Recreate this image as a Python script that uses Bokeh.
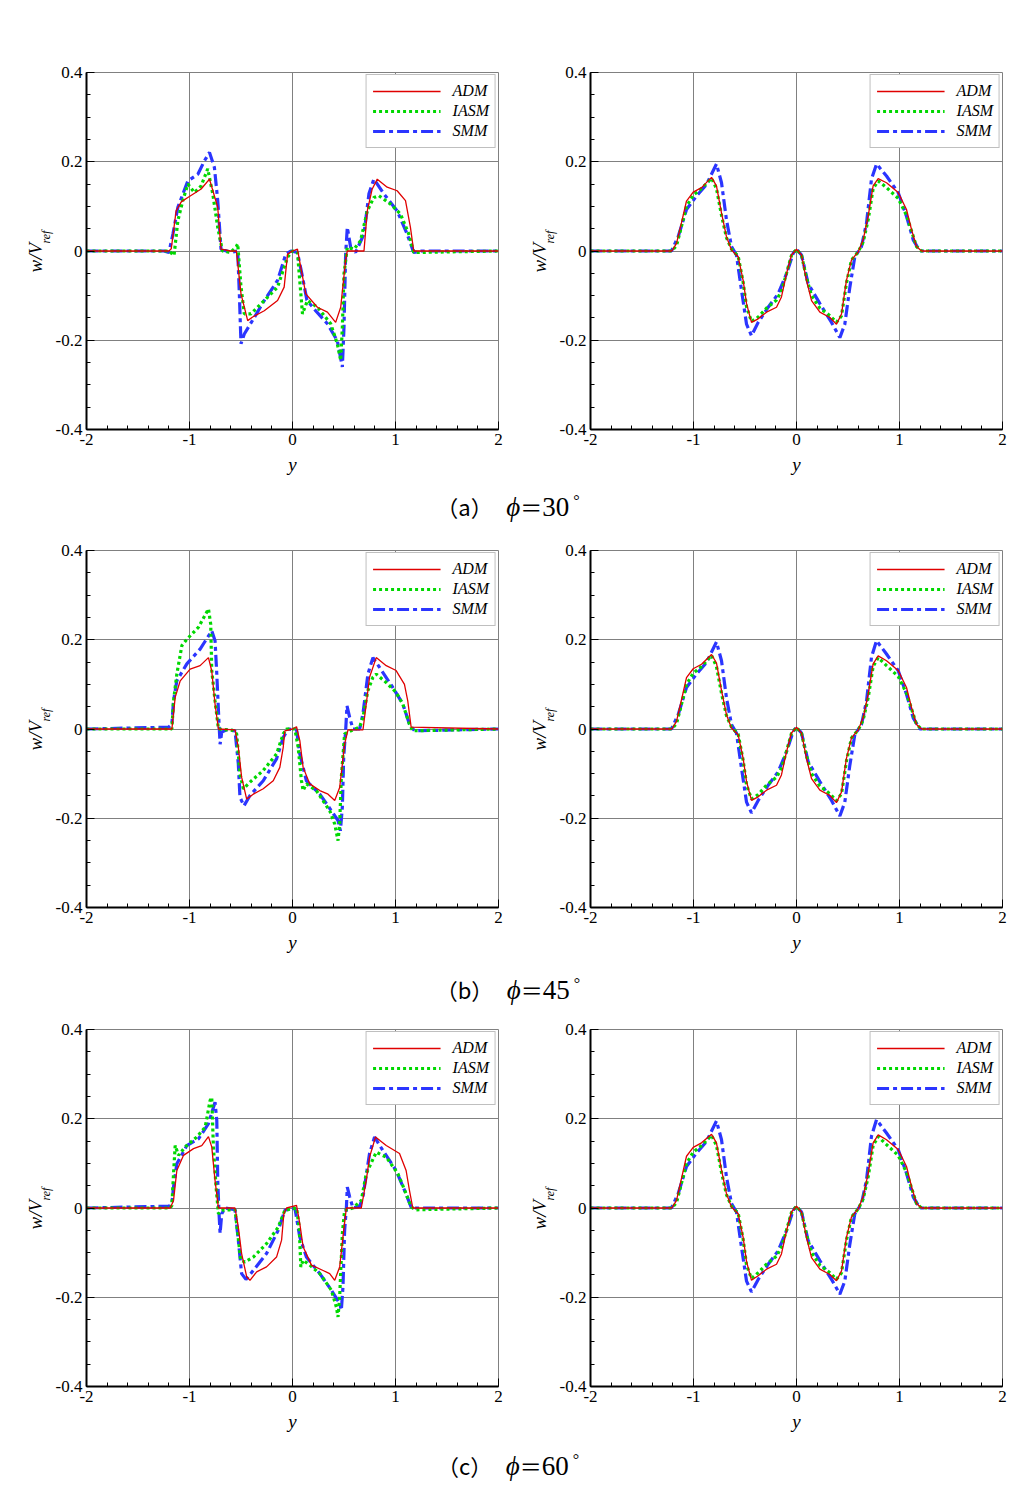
import math
from bokeh.plotting import figure
from bokeh.models import (FixedTicker, Legend, LegendItem, Title, Div, Range1d)
from bokeh.layouts import column, row
from bokeh.embed import file_html
from bokeh.resources import INLINE

# ---------------- data ----------------
# Panel (a) phi=30, left
a_l_adm_x = [-2, -1.2, -1.177, -1.13, -1.08, -1.016, -0.887, -0.806, -0.726, -0.694, -0.6, -0.545, -0.5, -0.435, -0.387, -0.274, -0.145, -0.081, -0.048, 0.0, 0.048, 0.081, 0.129, 0.242, 0.339, 0.419, 0.468, 0.516, 0.532, 0.694, 0.726, 0.774, 0.823, 0.919, 1.016, 1.097, 1.145, 1.177, 2]
a_l_adm_y = [0, 0, 0.005, 0.09, 0.11, 0.12, 0.139, 0.161, 0.098, 0.004, 0, 0, -0.096, -0.156, -0.148, -0.134, -0.111, -0.081, -0.007, 0, 0.004, -0.037, -0.096, -0.126, -0.137, -0.16, -0.126, -0.02, 0, 0, 0.09, 0.139, 0.161, 0.143, 0.135, 0.113, 0.053, 0, 0]
a_l_iasm_x = [-2, -1.2, -1.15, -1.113, -1.065, -1.016, -0.952, -0.887, -0.823, -0.774, -0.726, -0.68, -0.6, -0.545, -0.532, -0.5, -0.468, -0.403, -0.274, -0.145, -0.048, 0, 0.048, 0.081, 0.097, 0.145, 0.242, 0.371, 0.435, 0.468, 0.484, 0.5, 0.532, 0.597, 0.661, 0.726, 0.79, 0.839, 0.952, 1.048, 1.129, 1.177, 1.27, 2]
a_l_iasm_y = [0, 0, -0.01, 0.068, 0.113, 0.15, 0.131, 0.146, 0.184, 0.128, 0.053, 0, -0.003, 0.01, 0.016, -0.08, -0.141, -0.141, -0.111, -0.081, -0.014, 0, -0.003, -0.096, -0.141, -0.111, -0.126, -0.163, -0.208, -0.245, -0.171, -0.051, 0.008, 0.004, 0.023, 0.09, 0.12, 0.124, 0.105, 0.083, 0.038, -0.003, -0.003, 0]
a_l_smm_x = [-2, -1.25, -1.2, -1.161, -1.113, -1.016, -0.919, -0.855, -0.806, -0.758, -0.726, -0.694, -0.6, -0.532, -0.516, -0.5, -0.468, -0.371, -0.274, -0.145, -0.065, -0.016, 0.048, 0.09, 0.14, 0.21, 0.339, 0.435, 0.484, 0.5, 0.516, 0.532, 0.565, 0.613, 0.694, 0.742, 0.79, 0.887, 1.016, 1.113, 1.177, 1.25, 2]
a_l_smm_y = [0, 0, -0.003, 0.038, 0.098, 0.157, 0.172, 0.202, 0.221, 0.187, 0.113, 0.004, -0.003, 0, -0.096, -0.208, -0.186, -0.149, -0.111, -0.066, -0.007, 0, -0.003, -0.05, -0.11, -0.13, -0.163, -0.201, -0.26, -0.17, -0.007, 0.053, 0.008, -0.003, 0.038, 0.128, 0.161, 0.128, 0.09, 0.038, -0.003, 0, 0]

# Panel (a) phi=30, right
a_r_adm_x = [-2, -1.21, -1.165, -1.117, -1.068, -1.003, -0.922, -0.825, -0.777, -0.728, -0.68, -0.631, -0.566, -0.518, -0.485, -0.437, -0.372, -0.291, -0.194, -0.146, -0.097, -0.049, 0, 0.049, 0.097, 0.146, 0.227, 0.324, 0.388, 0.437, 0.485, 0.534, 0.599, 0.647, 0.696, 0.744, 0.793, 0.874, 0.987, 1.068, 1.117, 1.165, 1.214, 2]
a_r_adm_y = [0, 0, 0.017, 0.063, 0.112, 0.132, 0.142, 0.165, 0.146, 0.085, 0.032, 0.002, -0.013, -0.066, -0.118, -0.16, -0.152, -0.137, -0.126, -0.103, -0.051, -0.009, 0.004, -0.009, -0.066, -0.111, -0.137, -0.149, -0.164, -0.141, -0.066, -0.02, -0.002, 0.025, 0.078, 0.146, 0.162, 0.153, 0.131, 0.093, 0.048, 0.01, 0, 0]
a_r_iasm_x = a_r_adm_x
a_r_iasm_y = [0, 0, 0.012, 0.055, 0.1, 0.125, 0.14, 0.163, 0.14, 0.08, 0.03, 0.004, -0.012, -0.07, -0.125, -0.158, -0.148, -0.128, -0.11, -0.09, -0.05, -0.01, 0.004, -0.01, -0.06, -0.1, -0.128, -0.145, -0.16, -0.145, -0.072, -0.02, -0.002, 0.02, 0.07, 0.14, 0.157, 0.142, 0.118, 0.08, 0.045, 0.01, 0, 0]
a_r_smm_x = [-2, -1.214, -1.149, -1.068, -0.971, -0.874, -0.777, -0.728, -0.68, -0.631, -0.583, -0.534, -0.485, -0.437, -0.372, -0.275, -0.178, -0.097, -0.032, 0, 0.049, 0.113, 0.227, 0.34, 0.421, 0.469, 0.518, 0.566, 0.631, 0.68, 0.728, 0.777, 0.874, 0.987, 1.068, 1.133, 1.197, 2]
a_r_smm_y = [0, 0, 0.032, 0.093, 0.123, 0.149, 0.195, 0.153, 0.07, 0.01, -0.009, -0.088, -0.164, -0.19, -0.16, -0.126, -0.096, -0.051, -0.005, 0.004, -0.009, -0.073, -0.118, -0.16, -0.194, -0.164, -0.081, -0.013, 0.01, 0.063, 0.161, 0.195, 0.168, 0.131, 0.078, 0.025, 0, 0]

# Panel (b) phi=45, left
b_l_adm_x = [-2, -1.171, -1.139, -1.09, -0.994, -0.897, -0.816, -0.784, -0.752, -0.719, -0.558, -0.526, -0.494, -0.445, -0.381, -0.284, -0.187, -0.123, -0.09, -0.074, 0, 0.039, 0.071, 0.103, 0.168, 0.265, 0.345, 0.41, 0.458, 0.506, 0.539, 0.684, 0.716, 0.748, 0.813, 0.91, 1.006, 1.087, 1.119, 1.152, 2]
b_l_adm_y = [0, 0, 0.071, 0.108, 0.134, 0.142, 0.16, 0.13, 0.056, 0, -0.002, -0.041, -0.108, -0.157, -0.146, -0.134, -0.116, -0.086, -0.041, -0.004, 0, 0.005, -0.026, -0.086, -0.123, -0.138, -0.146, -0.16, -0.131, -0.034, -0.002, -0.002, 0.056, 0.116, 0.16, 0.142, 0.131, 0.1, 0.063, 0.004, 0]
b_l_iasm_x = [-2, -1.171, -1.155, -1.123, -1.074, -1.026, -0.913, -0.816, -0.794, -0.784, -0.752, -0.719, -0.58, -0.542, -0.51, -0.477, -0.413, -0.284, -0.155, -0.09, -0.058, 0.023, 0.055, 0.087, 0.103, 0.135, 0.232, 0.361, 0.41, 0.442, 0.458, 0.474, 0.506, 0.587, 0.652, 0.684, 0.732, 0.781, 0.813, 0.91, 1.006, 1.071, 1.135, 1.168, 2]
b_l_iasm_y = [0, 0, 0.063, 0.123, 0.187, 0.201, 0.228, 0.269, 0.235, 0.131, 0.063, 0, -0.003, -0.011, -0.101, -0.134, -0.119, -0.093, -0.056, -0.011, 0, 0, -0.041, -0.116, -0.138, -0.123, -0.138, -0.183, -0.213, -0.25, -0.213, -0.108, -0.011, -0.002, 0.004, 0.026, 0.086, 0.116, 0.123, 0.104, 0.082, 0.056, 0.011, -0.004, 0]
b_l_smm_x = [-2, -1.203, -1.171, -1.155, -1.123, -1.026, -0.897, -0.784, -0.752, -0.735, -0.713, -0.703, -0.687, -0.639, -0.558, -0.526, -0.51, -0.471, -0.413, -0.284, -0.155, -0.09, -0.042, 0.039, 0.071, 0.135, 0.265, 0.377, 0.442, 0.465, 0.484, 0.497, 0.516, 0.529, 0.555, 0.587, 0.652, 0.684, 0.732, 0.781, 0.845, 0.974, 1.071, 1.135, 1.184, 2]
b_l_smm_y = [0, 0.004, 0.011, 0.063, 0.108, 0.146, 0.179, 0.22, 0.198, 0.123, 0.011, -0.034, -0.007, -0.002, -0.004, -0.078, -0.153, -0.172, -0.149, -0.116, -0.067, -0.019, 0, -0.002, -0.056, -0.116, -0.146, -0.183, -0.205, -0.228, -0.175, -0.063, -0.004, 0.052, 0.026, 0, 0, 0.034, 0.123, 0.16, 0.138, 0.093, 0.056, 0.011, -0.004, 0]

# Panel (b) phi=45, right
b_r_adm_x = a_r_adm_x
b_r_adm_y = [0, 0, 0.017, 0.065, 0.115, 0.135, 0.145, 0.167, 0.148, 0.086, 0.032, 0.002, -0.013, -0.066, -0.118, -0.16, -0.152, -0.137, -0.126, -0.103, -0.051, -0.009, 0.004, -0.009, -0.066, -0.111, -0.137, -0.149, -0.165, -0.141, -0.066, -0.02, -0.002, 0.025, 0.078, 0.146, 0.164, 0.153, 0.131, 0.093, 0.048, 0.01, 0, 0]
b_r_iasm_x = a_r_adm_x
b_r_iasm_y = [0, 0, 0.012, 0.055, 0.1, 0.125, 0.14, 0.165, 0.14, 0.08, 0.03, 0.004, -0.012, -0.07, -0.125, -0.157, -0.147, -0.126, -0.108, -0.088, -0.05, -0.01, 0.004, -0.01, -0.06, -0.1, -0.128, -0.145, -0.161, -0.145, -0.072, -0.02, -0.002, 0.02, 0.07, 0.14, 0.16, 0.142, 0.118, 0.08, 0.045, 0.01, 0, 0]
b_r_smm_x = a_r_smm_x
b_r_smm_y = [0, 0, 0.032, 0.093, 0.123, 0.149, 0.195, 0.153, 0.07, 0.01, -0.009, -0.088, -0.164, -0.188, -0.16, -0.126, -0.096, -0.051, -0.005, 0.004, -0.009, -0.073, -0.118, -0.16, -0.195, -0.164, -0.081, -0.013, 0.01, 0.063, 0.161, 0.198, 0.168, 0.131, 0.078, 0.025, 0, 0]

# Panel (c) phi=60, left
c_l_adm_x = [-2, -1.187, -1.155, -1.123, -1.058, -0.961, -0.881, -0.816, -0.784, -0.752, -0.719, -0.558, -0.526, -0.494, -0.445, -0.413, -0.348, -0.252, -0.155, -0.106, -0.084, -0.058, 0.039, 0.071, 0.103, 0.184, 0.297, 0.361, 0.41, 0.458, 0.497, 0.523, 0.668, 0.716, 0.748, 0.806, 0.91, 1.039, 1.103, 1.135, 1.168, 2]
c_l_adm_y = [0, 0, 0.017, 0.084, 0.118, 0.133, 0.14, 0.16, 0.137, 0.062, 0, 0, -0.043, -0.102, -0.154, -0.162, -0.143, -0.132, -0.11, -0.072, -0.013, 0, 0.006, -0.035, -0.087, -0.128, -0.14, -0.147, -0.162, -0.132, -0.05, 0, 0, 0.062, 0.114, 0.159, 0.14, 0.122, 0.084, 0.04, 0, 0]
c_l_iasm_x = [-2, -1.187, -1.171, -1.155, -1.139, -1.106, -1.042, -0.929, -0.848, -0.8, -0.784, -0.768, -0.742, -0.719, -0.671, -0.558, -0.535, -0.503, -0.461, -0.381, -0.252, -0.139, -0.074, 0.039, 0.065, 0.081, 0.103, 0.168, 0.265, 0.377, 0.426, 0.442, 0.458, 0.484, 0.506, 0.587, 0.668, 0.716, 0.813, 0.91, 1.023, 1.103, 1.152, 1.2, 2]
c_l_iasm_y = [0, 0, 0.006, 0.077, 0.14, 0.118, 0.137, 0.159, 0.181, 0.241, 0.248, 0.137, 0.047, -0.013, -0.004, -0.004, -0.05, -0.117, -0.121, -0.11, -0.08, -0.043, -0.005, 0, -0.043, -0.132, -0.117, -0.128, -0.147, -0.184, -0.222, -0.244, -0.199, -0.057, -0.005, 0, 0.017, 0.077, 0.125, 0.114, 0.077, 0.032, 0.002, -0.004, 0]
c_l_smm_x = [-2, -1.2, -1.171, -1.155, -1.123, -1.026, -0.913, -0.816, -0.752, -0.735, -0.726, -0.713, -0.703, -0.687, -0.655, -0.558, -0.526, -0.494, -0.452, -0.381, -0.252, -0.139, -0.074, 0.023, 0.071, 0.135, 0.265, 0.377, 0.458, 0.474, 0.49, 0.506, 0.523, 0.532, 0.555, 0.587, 0.652, 0.684, 0.748, 0.797, 0.877, 1.006, 1.087, 1.152, 1.2, 2]
c_l_smm_y = [0, 0.004, 0.01, 0.047, 0.099, 0.14, 0.155, 0.189, 0.237, 0.196, 0.062, -0.013, -0.057, -0.013, 0, -0.004, -0.072, -0.147, -0.16, -0.14, -0.102, -0.05, -0.005, 0, -0.065, -0.11, -0.147, -0.184, -0.214, -0.229, -0.177, -0.05, 0, 0.047, 0.025, 0, 0.004, 0.025, 0.122, 0.159, 0.129, 0.084, 0.04, 0.002, 0, 0]

# Panel (c) phi=60, right
c_r_adm_x = a_r_adm_x
c_r_adm_y = [0, 0, 0.017, 0.066, 0.116, 0.136, 0.146, 0.165, 0.146, 0.085, 0.032, 0.002, -0.013, -0.066, -0.12, -0.162, -0.152, -0.137, -0.126, -0.103, -0.051, -0.009, 0.004, -0.009, -0.066, -0.111, -0.137, -0.149, -0.163, -0.141, -0.066, -0.02, -0.002, 0.025, 0.078, 0.146, 0.164, 0.153, 0.131, 0.093, 0.048, 0.01, 0, 0]
c_r_iasm_x = a_r_adm_x
c_r_iasm_y = [0, 0, 0.012, 0.055, 0.1, 0.125, 0.14, 0.163, 0.14, 0.08, 0.03, 0.004, -0.012, -0.07, -0.128, -0.158, -0.145, -0.126, -0.108, -0.088, -0.05, -0.01, 0.004, -0.01, -0.06, -0.1, -0.128, -0.145, -0.16, -0.145, -0.072, -0.02, -0.002, 0.02, 0.07, 0.14, 0.16, 0.142, 0.118, 0.08, 0.045, 0.01, 0, 0]
c_r_smm_x = a_r_smm_x
c_r_smm_y = [0, 0, 0.032, 0.093, 0.123, 0.149, 0.195, 0.153, 0.07, 0.01, -0.009, -0.088, -0.164, -0.188, -0.16, -0.126, -0.096, -0.051, -0.005, 0.004, -0.009, -0.073, -0.118, -0.16, -0.193, -0.164, -0.081, -0.013, 0.01, 0.063, 0.161, 0.198, 0.168, 0.131, 0.078, 0.025, 0, 0]

x_ticks = [-2, -1, 0, 1, 2]
x_tick_labels = ["-2", "-1", "0", "1", "2"]
y_ticks = [-0.4, -0.2, 0, 0.2, 0.4]
y_tick_labels = ["-0.4", "-0.2", "0", "0.2", "0.4"]
series_names = ["ADM", "IASM", "SMM"]
captions = [("（a）", "30"), ("（b）", "45"), ("（c）", "60")]

panels = [
    [(a_l_adm_x, a_l_adm_y), (a_l_iasm_x, a_l_iasm_y), (a_l_smm_x, a_l_smm_y)],
    [(a_r_adm_x, a_r_adm_y), (a_r_iasm_x, a_r_iasm_y), (a_r_smm_x, a_r_smm_y)],
    [(b_l_adm_x, b_l_adm_y), (b_l_iasm_x, b_l_iasm_y), (b_l_smm_x, b_l_smm_y)],
    [(b_r_adm_x, b_r_adm_y), (b_r_iasm_x, b_r_iasm_y), (b_r_smm_x, b_r_smm_y)],
    [(c_l_adm_x, c_l_adm_y), (c_l_iasm_x, c_l_iasm_y), (c_l_smm_x, c_l_smm_y)],
    [(c_r_adm_x, c_r_adm_y), (c_r_iasm_x, c_r_iasm_y), (c_r_smm_x, c_r_smm_y)],
]

SERIF = "'Liberation Serif', 'Times New Roman', serif"
styles = {
    "ADM": dict(line_color="#e00000", line_width=1.3, line_dash="solid"),
    "IASM": dict(line_color="#00d800", line_width=3.2, line_dash="3 3"),
    "SMM": dict(line_color="#2b35ff", line_width=3.2, line_dash="12 4 4 4"),
}

FRAME_H = 357
BOTTOM = 52


def make_fig(data, top_border, left_border, width):
    p = figure(width=width, height=top_border + FRAME_H + BOTTOM,
               x_range=Range1d(-2, 2), y_range=Range1d(-0.4, 0.4),
               output_backend="svg", toolbar_location=None,
               min_border_left=left_border, min_border_right=14,
               min_border_top=top_border, min_border_bottom=BOTTOM)
    p.outline_line_color = "#808080"
    p.outline_line_width = 1
    p.background_fill_color = "white"
    p.border_fill_color = "white"

    xt = FixedTicker(ticks=x_ticks, minor_ticks=[round(-2 + 0.2 * i, 2) for i in range(21)])
    yt = FixedTicker(ticks=y_ticks, minor_ticks=[round(-0.4 + 0.05 * i, 3) for i in range(17)])
    p.xaxis.ticker = xt
    p.yaxis.ticker = yt
    p.xgrid.ticker = xt
    p.ygrid.ticker = yt
    p.xaxis.major_label_overrides = dict(zip(x_ticks, x_tick_labels))
    p.yaxis.major_label_overrides = dict(zip(y_ticks, y_tick_labels))
    for ax in (p.xaxis[0], p.yaxis[0]):
        ax.axis_line_color = "black"
        ax.axis_line_width = 2
        ax.major_tick_in = 8
        ax.major_tick_out = 0
        ax.minor_tick_in = 4
        ax.minor_tick_out = 0
        ax.major_tick_line_color = "black"
        ax.minor_tick_line_color = "black"
        ax.major_label_text_font = SERIF
        ax.major_label_text_font_size = "17px"
        ax.major_label_text_color = "black"
        ax.major_label_standoff = 4
    p.xaxis.axis_label = "y"
    p.xaxis.axis_label_text_font = SERIF
    p.xaxis.axis_label_text_font_style = "italic"
    p.xaxis.axis_label_text_font_size = "19px"
    p.xaxis.axis_label_text_color = "black"
    p.xaxis.axis_label_standoff = 6
    p.xgrid.grid_line_color = "#808080"
    p.ygrid.grid_line_color = "#808080"
    p.xgrid.grid_line_width = 1
    p.ygrid.grid_line_width = 1

    renderers = {}
    for name, (xs, ys) in reversed(list(zip(series_names, data))):
        renderers[name] = p.line(xs, ys, **styles[name])

    legend = Legend(items=[LegendItem(label=n, renderers=[renderers[n]]) for n in series_names],
                    location="top_right")
    legend.border_line_color = "#808080"
    legend.border_line_width = 1
    legend.background_fill_alpha = 1
    legend.label_text_font = SERIF
    legend.label_text_font_style = "italic"
    legend.label_text_font_size = "16px"
    legend.label_text_color = "black"
    legend.glyph_width = 68
    legend.glyph_height = 20
    legend.label_height = 20
    legend.label_standoff = 12
    legend.spacing = 0
    legend.padding = 6
    legend.margin = 2
    p.add_layout(legend)

    # y axis label w/V_ref : subscript placed between the axis and the main text
    t_ref = Title(text="ref", align="left", offset=186, vertical_align="bottom", standoff=0,
                  text_font=SERIF, text_font_style="italic", text_font_size="12px",
                  text_color="black")
    t_main = Title(text="w/V", align="left", offset=157, vertical_align="bottom", standoff=-18,
                   text_font=SERIF, text_font_style="italic", text_font_size="19px",
                   text_color="black")
    p.add_layout(t_ref, "left")
    p.add_layout(t_main, "left")
    return p


def make_caption(tag, angle, pad, height):
    html = ('<div style="width:1016px;text-align:center;color:black;padding-top:%dpx;line-height:30px;">'
            '<span style="font-family:\'Noto Sans CJK SC\';font-size:22px;">%s</span>'
            '<span style="font-family:\'Liberation Serif\',\'Times New Roman\',serif;font-size:27px;">&nbsp;&nbsp;<i>ϕ</i>'
            '<span style="font-family:\'Noto Sans CJK SC\';font-size:22px;">＝</span>%s'
            '<sup style="font-size:16px;">&nbsp;°</sup></span></div>') % (pad, tag, angle)
    return Div(text=html, width=1016, height=height, margin=0)


tops = [72, 19, 20]
pads = [5, 10, 7]
cap_heights = [50, 50, 46]
children = []
for r in range(3):
    pl = make_fig(panels[2 * r], tops[r], 86, 512)
    pr = make_fig(panels[2 * r + 1], tops[r], 78, 504)
    children.append(row(pl, pr, spacing=0))
    children.append(make_caption(captions[r][0], captions[r][1], pads[r], cap_heights[r]))

layout = column(*children, spacing=0)
open("out.html", "w").write(file_html(layout, INLINE))
